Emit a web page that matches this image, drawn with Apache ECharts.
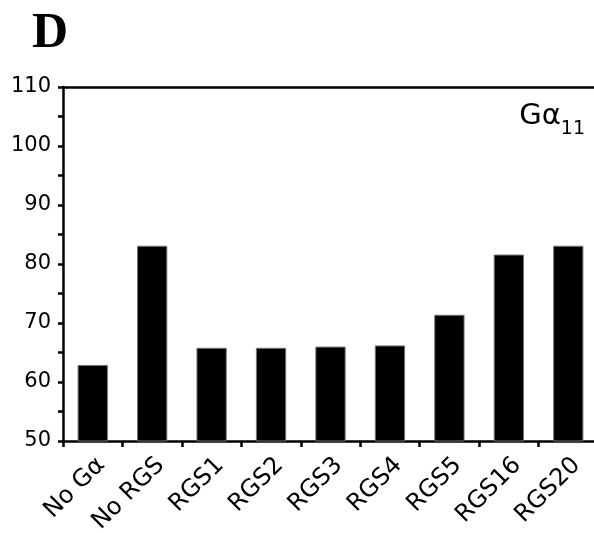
<!DOCTYPE html>
<html>
<head>
<meta charset="utf-8">
<script src="https://cdn.jsdelivr.net/npm/echarts@6/dist/echarts.min.js"></script>
<style>
  html, body { margin: 0; padding: 0; background: #fff; }
  #main { width: 594px; height: 533px; }
</style>
</head>
<body>
<div id="main"></div>
<script>
const categories = ["No G\u03b1", "No RGS", "RGS1", "RGS2", "RGS3", "RGS4", "RGS5", "RGS16", "RGS20"];
const values = [62.9, 83.1, 65.8, 65.8, 66.0, 66.2, 71.4, 81.6, 83.1];
const yTicks = [50, 60, 70, 80, 90, 100, 110];

const font = "DejaVu Sans, Arial, sans-serif";
const chart = echarts.init(document.getElementById("main"));

const option = {
  animation: false,
  backgroundColor: "#fff",
  title: [
    {
      text: "D",
      left: 27,
      top: 4,
      textStyle: { fontFamily: "Liberation Serif, Times New Roman, serif", fontWeight: "bold", fontSize: 50, color: "#000" }
    },
    {
      text: "{a|G\u03b1}{b|11}",
      right: 4,
      top: 92,
      textStyle: {
        fontWeight: "normal",
        rich: {
          a: { fontFamily: font, fontWeight: "normal", fontSize: 29, color: "#000", lineHeight: 34, verticalAlign: "bottom" },
          b: { fontFamily: font, fontWeight: "normal", fontSize: 19, color: "#000", lineHeight: 34, verticalAlign: "bottom", padding: [0, 0, -8, 0] }
        }
      }
    }
  ],
  grid: { left: 63, top: 87, right: -4, bottom: 92, containLabel: false, outerBoundsMode: "none" },
  xAxis: [
    {
      type: "category",
      data: categories,
      position: "bottom",
      axisLine: { lineStyle: { color: "#000", width: 2.5 } },
      axisTick: { show: true, length: 6, lineStyle: { color: "#000", width: 2.5 } },
      axisLabel: {
        rotate: 45, color: "#000", fontFamily: font, fontSize: 24, margin: 12, interval: 0,
        align: "right", verticalAlign: "top"
      }
    },
    {
      type: "category",
      data: categories,
      position: "top",
      axisLine: { lineStyle: { color: "#000", width: 2.5 } },
      axisTick: { show: false },
      axisLabel: { show: false }
    }
  ],
  yAxis: {
    type: "value",
    min: yTicks[0],
    max: yTicks[yTicks.length - 1],
    interval: 10,
    axisLine: { show: true, lineStyle: { color: "#000", width: 2.5 } },
    axisTick: { show: true, length: 5, lineStyle: { color: "#000", width: 2.5 } },
    minorTick: { show: true, splitNumber: 2, length: 5, lineStyle: { color: "#000", width: 2.5 } },
    splitLine: { show: false },
    axisLabel: { color: "#000", fontFamily: font, fontSize: 21, margin: 12 }
  },
  series: [
    {
      type: "bar",
      data: values,
      barWidth: "51%",
      itemStyle: { color: "#000", borderColor: "#777", borderWidth: 1 }
    }
  ]
};

chart.setOption(option);
</script>
</body>
</html>
